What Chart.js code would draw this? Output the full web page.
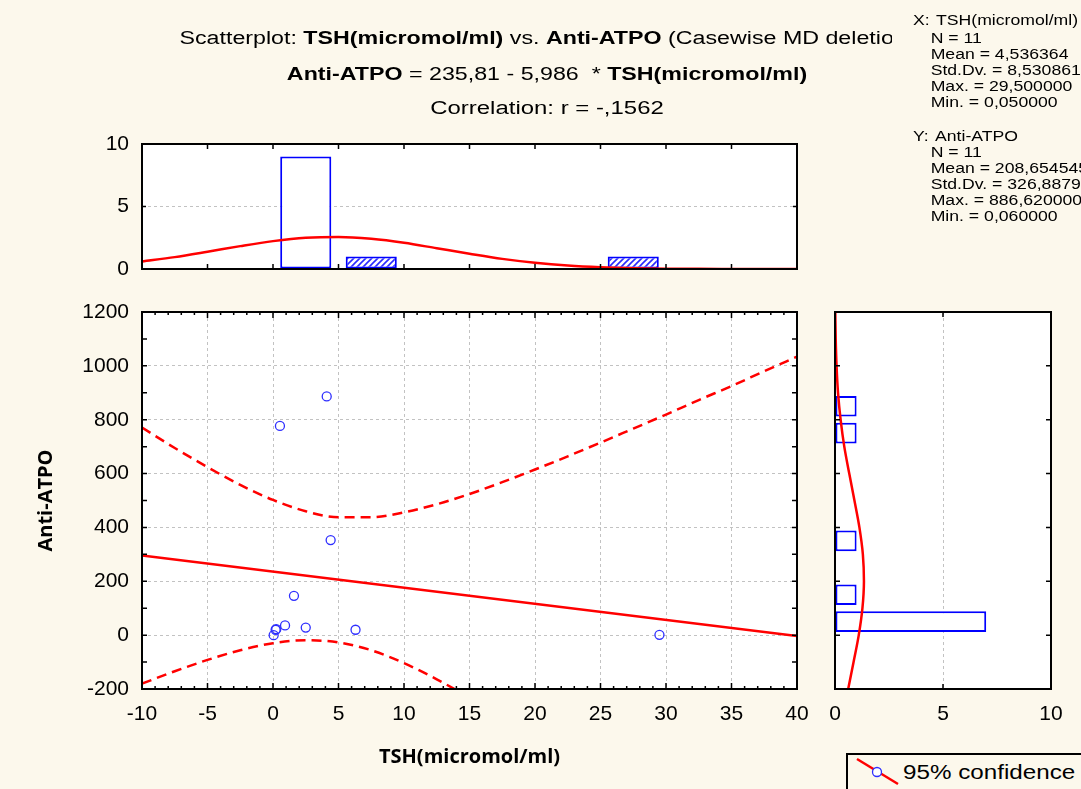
<!DOCTYPE html>
<html>
<head>
<meta charset="utf-8">
<title>Scatterplot: TSH vs. Anti-ATPO</title>
<script src="https://cdn.jsdelivr.net/npm/chart.js@4.4.1/dist/chart.umd.min.js"></script>
<style>
  html, body { margin: 0; padding: 0; }
  body {
    width: 1081px; height: 789px; overflow: hidden; position: relative;
    background: #fcf8ec; color: #000;
    font-family: "Liberation Sans", Arial, sans-serif;
  }
  canvas { position: absolute; left: 0; top: 0; }
  .title-wrap { position: absolute; left: 0; top: 0; width: 892px; height: 130px; overflow: hidden; }
  .tl {
    position: absolute; left: 0; width: 1094px; text-align: center;
    font-size: 18px; line-height: 20px; white-space: pre;
    transform-origin: 547px 0;
  }
  .stats {
    position: absolute; left: 913px; font-size: 14px; line-height: 16px;
    white-space: normal; transform: scaleX(1.26); transform-origin: 0 0;
  }
  .stats div { white-space: pre; height: 16px; }
  .stats .ind { padding-left: 14px; }
  .stats .gap { margin-left: 5px; }
  .legend-box {
    position: absolute; left: 846px; top: 753px; width: 300px; height: 80px;
    border: 2px solid #000; background: #fcf8ec; box-sizing: border-box;
  }
  .legend-text {
    position: absolute; left: 903px; top: 760px; font-size: 20px; line-height: 24px;
    white-space: pre; transform: scaleX(1.21); transform-origin: 0 0;
  }
  .legend-sym { position: absolute; left: 850px; top: 755px; }
</style>
</head>
<body>

<canvas id="mainPlot" width="1081" height="789"></canvas>
<canvas id="tshHist" width="1081" height="789"></canvas>
<canvas id="atpoHist" width="1081" height="789"></canvas>

<div class="title-wrap">
  <div class="tl" style="top:28px; transform:scaleX(1.29);">Scatterplot: <b>TSH(micromol/ml)</b> vs. <b>Anti-ATPO</b> (Casewise MD deletion)</div>
  <div class="tl" style="top:63.5px; transform:scaleX(1.29);"><b>Anti-ATPO</b> = 235,81 - 5,986  * <b>TSH(micromol/ml)</b></div>
  <div class="tl" style="top:98px; transform:scaleX(1.33);">Correlation: r = -,1562</div>
</div>

<div class="stats" style="top:12px;"><div>X:<span class="gap">TSH(micromol/ml)</span></div><div class="ind" style="margin-top:2px;">N = 11</div><div class="ind">Mean = 4,536364</div><div class="ind">Std.Dv. = 8,530861</div><div class="ind">Max. = 29,500000</div><div class="ind">Min. = 0,050000</div></div>
<div class="stats" style="top:128px;"><div>Y:<span class="gap">Anti-ATPO</span></div><div class="ind">N = 11</div><div class="ind">Mean = 208,654545</div><div class="ind">Std.Dv. = 326,887945</div><div class="ind">Max. = 886,620000</div><div class="ind">Min. = 0,060000</div></div>

<div class="legend-box"></div>
<svg class="legend-sym" width="55" height="32" viewBox="0 0 55 32">
  <line x1="7" y1="4" x2="48" y2="29" stroke="#ff0000" stroke-width="2.5"/>
  <circle cx="27" cy="17" r="4.5" fill="#ffffff" stroke="#2f2fff" stroke-width="1.3"/>
</svg>
<div class="legend-text">95% confidence</div>

<script>
// ---------- data ----------
// observed cases (X = TSH, Y = Anti-ATPO)
const tshValues  = [4.1, 0.53, 4.4, 1.6, 0.92, 0.2, 0.05, 2.5, 6.3, 29.5, 0.25];
const atpoValues = [886.62, 777, 353, 146, 36, 20, 0.06, 28, 20, 1, 22];

// fitted line: Anti-ATPO = 235,81 - 5,986 * TSH
const regIntercept = 235.81;
const regSlope = -5.986;
const regRange = [-10, 40];

// 95% confidence band of the fitted line
const bandTsh   = [-10, -7.5, -5, -2.5, 0, 2.5, 5, 7.5, 10, 12.5, 15, 17.5, 20, 22.5, 25, 27.5, 30, 32.5, 35, 37.5, 40];
const bandUpper = [771, 695, 624, 558, 502, 460, 438, 438, 456, 486, 524, 568, 615, 664, 715, 767, 819, 873, 925, 980, 1034];
const bandLowerTsh = [-10, -7.5, -5, -2.5, 0, 2.5, 5, 7.5, 10, 12.5, 15];
const bandLower    = [-180, -134, -92, -56, -30, -19, -27, -56, -104, -164, -232];

// TSH histogram (bin centres, counts) and expected normal curve
const tshBinMids   = [2.5, 7.5, 27.5];
const tshBinCounts = [9, 1, 1];
const tshCurveX = [-10, -7.5, -5, -2.5, 0, 2.5, 5, 7.5, 10, 12.5, 15, 17.5, 20, 22.5, 25, 27.5, 30, 32.5, 35, 37.5, 40];
const tshCurveY = [0.60, 0.95, 1.38, 1.83, 2.23, 2.50, 2.57, 2.42, 2.10, 1.66, 1.22, 0.81, 0.50, 0.28, 0.145, 0.069, 0.030, 0.012, 0.004, 0.0015, 0.0004];

// Anti-ATPO histogram (bin centres, counts) and expected normal curve
const atpoBinMids   = [50, 150, 350, 750, 850];
const atpoBinCounts = [7, 1, 1, 1, 1];
const atpoCurveY     = [-200, -100, 0, 100, 200, 300, 400, 500, 600, 700, 800, 900, 1000, 1100, 1200];
const atpoCurveCount = [0.61, 0.86, 1.10, 1.27, 1.34, 1.29, 1.13, 0.90, 0.66, 0.43, 0.26, 0.14, 0.072, 0.033, 0.013];

// axis tick labels
const tshTicks   = [-10, -5, 0, 5, 10, 15, 20, 25, 30, 35, 40];
const atpoTicks  = [-200, 0, 200, 400, 600, 800, 1000, 1200];
const countTicks = [0, 5, 10];

// ---------- shared styling ----------
const SANS = '"Liberation Sans", Arial, sans-serif';
Chart.defaults.font.family = SANS;
Chart.defaults.color = '#000';

const TICK_FONT = { family: SANS, size: 21 };
const AXIS_TITLE_FONT = { family: '"Open Sans", "Liberation Sans", sans-serif', size: 20, weight: 'bold' };
const GRID = { color: '#c2c2c2', lineWidth: 1, drawTicks: false };
const GRID_BORDER = { display: false, dash: [3, 3] };
const RED = '#ff0000';
const BLUE = '#0000ff';

function useTicks(values) {
  return scale => { scale.ticks = values.map(v => ({ value: v })); };
}
function tickLabel(v) { return String(v); }

// inward tick marks: [value, length]
function markSet(min, max, step, majorEvery, majorLen, minorLen) {
  const out = [];
  for (let i = 0; min + i * step <= max + 1e-9; i++) {
    out.push([min + i * step, i % majorEvery === 0 ? majorLen : minorLen]);
  }
  return out;
}

// white plot area, black frame and inward tick marks on all four sides
const panelFrame = {
  id: 'panelFrame',
  beforeDraw(chart) {
    const { ctx, chartArea: a } = chart;
    ctx.save();
    ctx.fillStyle = '#ffffff';
    ctx.fillRect(a.left, a.top, a.right - a.left, a.bottom - a.top);
    ctx.restore();
  },
  afterDraw(chart, args, opts) {
    const { ctx, chartArea: a, scales } = chart;
    ctx.save();
    ctx.strokeStyle = '#000';
    ctx.lineWidth = 1.5;
    ctx.beginPath();
    (opts.xMarks || []).forEach(([v, len]) => {
      const px = scales.x.getPixelForValue(v);
      ctx.moveTo(px, a.bottom); ctx.lineTo(px, a.bottom - len);
      ctx.moveTo(px, a.top);    ctx.lineTo(px, a.top + len);
    });
    (opts.yMarks || []).forEach(([v, len]) => {
      const py = scales.y.getPixelForValue(v);
      ctx.moveTo(a.left, py);  ctx.lineTo(a.left + len, py);
      ctx.moveTo(a.right, py); ctx.lineTo(a.right - len, py);
    });
    ctx.stroke();
    ctx.lineWidth = 2;
    ctx.strokeRect(a.left, a.top, a.right - a.left, a.bottom - a.top);
    ctx.restore();
  }
};

// diagonal hatch used for the small TSH bars
function hatchPattern(color) {
  const c = document.createElement('canvas');
  c.width = 6; c.height = 6;
  const g = c.getContext('2d');
  g.fillStyle = '#ffffff';
  g.fillRect(0, 0, 6, 6);
  g.strokeStyle = color;
  g.lineWidth = 1.6;
  g.beginPath();
  g.moveTo(-1, 7); g.lineTo(7, -1);
  g.moveTo(-4, 4); g.lineTo(4, -4);
  g.moveTo(2, 10); g.lineTo(10, 2);
  g.stroke();
  return g.createPattern(c, 'repeat');
}

const common = {
  responsive: false,
  animation: false,
  events: [],
};

// ---------- main scatterplot ----------
const scatterPoints = tshValues.map((x, i) => ({ x, y: atpoValues[i] }));
const regressionLine = regRange.map(x => ({ x, y: regIntercept + regSlope * x }));
const upperBand = bandTsh.map((x, i) => ({ x, y: bandUpper[i] }));
const lowerBand = bandLowerTsh.map((x, i) => ({ x, y: bandLower[i] }));

new Chart(document.getElementById('mainPlot'), {
  type: 'scatter',
  data: {
    datasets: [
      {
        type: 'scatter', data: scatterPoints,
        pointRadius: 4.5, pointBorderWidth: 1.3,
        pointBorderColor: '#2f2fff', pointBackgroundColor: 'rgba(255,255,255,0)'
      },
      {
        type: 'line', data: regressionLine,
        borderColor: RED, borderWidth: 2.5, pointRadius: 0, fill: false
      },
      {
        type: 'line', data: upperBand,
        borderColor: RED, borderWidth: 2.5, borderDash: [10, 6], pointRadius: 0,
        fill: false, cubicInterpolationMode: 'monotone'
      },
      {
        type: 'line', data: lowerBand,
        borderColor: RED, borderWidth: 2.5, borderDash: [10, 6], pointRadius: 0,
        fill: false, cubicInterpolationMode: 'monotone'
      }
    ]
  },
  options: {
    ...common,
    layout: { padding: { left: 0, top: 312, right: 284, bottom: 0 } },
    plugins: {
      legend: { display: false }, tooltip: { enabled: false },
      panelFrame: {
        xMarks: markSet(-10, 40, 1, 5, 6, 3),
        yMarks: markSet(-200, 1200, 100, 1, 5, 5)
      }
    },
    scales: {
      x: {
        type: 'linear', min: -10, max: 40, offset: false,
        afterBuildTicks: useTicks(tshTicks),
        afterFit: s => { s.height = 100; },
        grid: GRID, border: GRID_BORDER,
        ticks: { font: TICK_FONT, color: '#000', padding: 13, maxRotation: 0, autoSkip: false, callback: tickLabel },
        title: { display: true, text: 'TSH(micromol/ml)', font: AXIS_TITLE_FONT, color: '#000', padding: { top: 0, bottom: 20 } }
      },
      y: {
        type: 'linear', min: -200, max: 1200, offset: false,
        afterBuildTicks: useTicks(atpoTicks),
        afterFit: s => { s.width = 142; },
        grid: GRID, border: GRID_BORDER,
        ticks: { font: TICK_FONT, color: '#000', padding: 13, autoSkip: false, callback: tickLabel },
        title: { display: true, text: 'Anti-ATPO', font: AXIS_TITLE_FONT, color: '#000', padding: { top: 34, bottom: 0 } }
      }
    }
  },
  plugins: [panelFrame]
});

// ---------- TSH histogram (top) ----------
const tshHatch = hatchPattern('#2a2aff');
new Chart(document.getElementById('tshHist'), {
  type: 'bar',
  data: {
    datasets: [
      {
        type: 'line', data: tshCurveX.map((x, i) => ({ x, y: tshCurveY[i] })),
        borderColor: RED, borderWidth: 2.5, pointRadius: 0, fill: false,
        cubicInterpolationMode: 'monotone'
      },
      {
        type: 'bar', data: tshBinMids.map((x, i) => ({ x, y: tshBinCounts[i] })),
        backgroundColor: c => (c.dataIndex === 0 ? '#ffffff' : tshHatch),
        borderColor: BLUE, borderWidth: 2, borderSkipped: false,
        categoryPercentage: 1, barPercentage: 0.78
      }
    ]
  },
  options: {
    ...common,
    layout: { padding: { left: 0, top: 144, right: 284, bottom: 520 } },
    plugins: {
      legend: { display: false }, tooltip: { enabled: false },
      panelFrame: {
        xMarks: markSet(-10, 40, 5, 1, 5, 5),
        yMarks: markSet(0, 10, 5, 1, 4, 4)
      }
    },
    scales: {
      x: {
        type: 'linear', min: -10, max: 40, offset: false, display: false,
        afterBuildTicks: useTicks(tshTicks),
        grid: { display: false, offset: false }
      },
      y: {
        type: 'linear', min: 0, max: 10, offset: false,
        afterBuildTicks: useTicks(countTicks),
        afterFit: s => { s.width = 142; },
        grid: GRID, border: GRID_BORDER,
        ticks: { font: TICK_FONT, color: '#000', padding: 13, autoSkip: false, callback: tickLabel }
      }
    }
  },
  plugins: [panelFrame]
});

// ---------- Anti-ATPO histogram (right) ----------
new Chart(document.getElementById('atpoHist'), {
  type: 'bar',
  data: {
    datasets: [
      {
        type: 'line', indexAxis: 'y',
        data: atpoCurveY.map((y, i) => ({ x: atpoCurveCount[i], y })),
        borderColor: RED, borderWidth: 2.5, pointRadius: 0, fill: false,
        cubicInterpolationMode: 'monotone'
      },
      {
        type: 'bar', indexAxis: 'y',
        data: atpoBinMids.map((y, i) => ({ x: atpoBinCounts[i], y })),
        backgroundColor: '#ffffff',
        borderColor: BLUE, borderWidth: 2, borderSkipped: false,
        categoryPercentage: 1, barPercentage: 0.77
      }
    ]
  },
  options: {
    ...common,
    indexAxis: 'y',
    layout: { padding: { left: 835, top: 312, right: 30, bottom: 0 } },
    plugins: {
      legend: { display: false }, tooltip: { enabled: false },
      panelFrame: {
        xMarks: markSet(0, 10, 5, 1, 5, 5),
        yMarks: markSet(-200, 1200, 200, 1, 5, 5)
      }
    },
    scales: {
      x: {
        type: 'linear', min: 0, max: 10, offset: false, position: 'bottom',
        afterBuildTicks: useTicks(countTicks),
        afterFit: s => { s.height = 100; },
        grid: GRID, border: GRID_BORDER,
        ticks: { font: TICK_FONT, color: '#000', padding: 13, maxRotation: 0, autoSkip: false, callback: tickLabel }
      },
      y: {
        type: 'linear', min: -200, max: 1200, offset: false, display: false,
        afterBuildTicks: useTicks(atpoTicks),
        grid: { display: false, offset: false }
      }
    }
  },
  plugins: [panelFrame]
});
</script>
</body>
</html>
